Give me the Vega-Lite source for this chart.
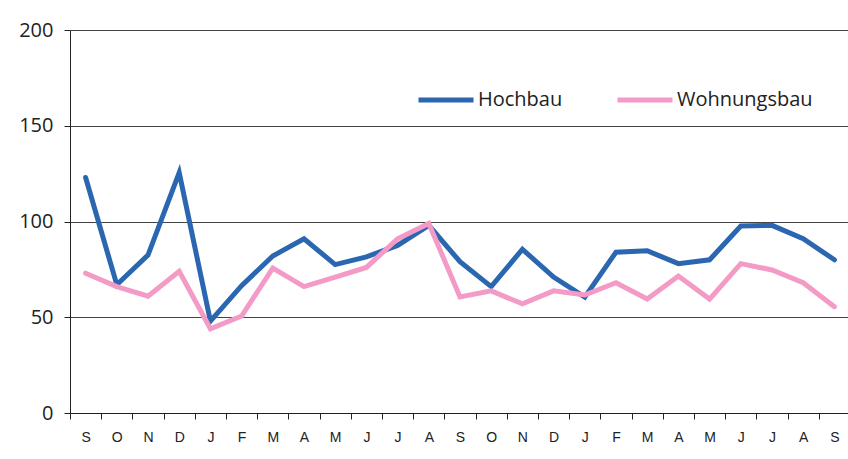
{
  "$schema": "https://vega.github.io/schema/vega-lite/v6.json",
  "autosize": "none",
  "width": 780,
  "height": 383,
  "padding": {"left": 70, "top": 30, "right": 0, "bottom": 46},
  "background": "white",
  "config": {"view": {"stroke": null}},
  "data": {
    "values": [
      {"i": 0, "serie": "Hochbau", "v": 123},
      {"i": 1, "serie": "Hochbau", "v": 67},
      {"i": 2, "serie": "Hochbau", "v": 82.5},
      {"i": 3, "serie": "Hochbau", "v": 125.5},
      {"i": 4, "serie": "Hochbau", "v": 48},
      {"i": 5, "serie": "Hochbau", "v": 66.5},
      {"i": 6, "serie": "Hochbau", "v": 82},
      {"i": 7, "serie": "Hochbau", "v": 91},
      {"i": 8, "serie": "Hochbau", "v": 77.5},
      {"i": 9, "serie": "Hochbau", "v": 81.5},
      {"i": 10, "serie": "Hochbau", "v": 87.5},
      {"i": 11, "serie": "Hochbau", "v": 98},
      {"i": 12, "serie": "Hochbau", "v": 79},
      {"i": 13, "serie": "Hochbau", "v": 66},
      {"i": 14, "serie": "Hochbau", "v": 85.5},
      {"i": 15, "serie": "Hochbau", "v": 71},
      {"i": 16, "serie": "Hochbau", "v": 60.5},
      {"i": 17, "serie": "Hochbau", "v": 84},
      {"i": 18, "serie": "Hochbau", "v": 84.7},
      {"i": 19, "serie": "Hochbau", "v": 78},
      {"i": 20, "serie": "Hochbau", "v": 80},
      {"i": 21, "serie": "Hochbau", "v": 97.6},
      {"i": 22, "serie": "Hochbau", "v": 98},
      {"i": 23, "serie": "Hochbau", "v": 91},
      {"i": 24, "serie": "Hochbau", "v": 80},
      {"i": 0, "serie": "Wohnungsbau", "v": 73},
      {"i": 1, "serie": "Wohnungsbau", "v": 66},
      {"i": 2, "serie": "Wohnungsbau", "v": 61},
      {"i": 3, "serie": "Wohnungsbau", "v": 74},
      {"i": 4, "serie": "Wohnungsbau", "v": 44},
      {"i": 5, "serie": "Wohnungsbau", "v": 50.6},
      {"i": 6, "serie": "Wohnungsbau", "v": 75.7},
      {"i": 7, "serie": "Wohnungsbau", "v": 66},
      {"i": 8, "serie": "Wohnungsbau", "v": 71},
      {"i": 9, "serie": "Wohnungsbau", "v": 76},
      {"i": 10, "serie": "Wohnungsbau", "v": 91},
      {"i": 11, "serie": "Wohnungsbau", "v": 99},
      {"i": 12, "serie": "Wohnungsbau", "v": 60.6},
      {"i": 13, "serie": "Wohnungsbau", "v": 63.8},
      {"i": 14, "serie": "Wohnungsbau", "v": 57},
      {"i": 15, "serie": "Wohnungsbau", "v": 63.8},
      {"i": 16, "serie": "Wohnungsbau", "v": 61.6},
      {"i": 17, "serie": "Wohnungsbau", "v": 68},
      {"i": 18, "serie": "Wohnungsbau", "v": 59.5},
      {"i": 19, "serie": "Wohnungsbau", "v": 71.5},
      {"i": 20, "serie": "Wohnungsbau", "v": 59.5},
      {"i": 21, "serie": "Wohnungsbau", "v": 78},
      {"i": 22, "serie": "Wohnungsbau", "v": 74.7},
      {"i": 23, "serie": "Wohnungsbau", "v": 68},
      {"i": 24, "serie": "Wohnungsbau", "v": 55.5}
    ]
  },
  "mark": {"type": "line", "strokeWidth": 5, "strokeCap": "round", "strokeJoin": "miter"},
  "encoding": {
    "x": {
      "field": "i",
      "type": "ordinal",
      "scale": {"paddingInner": 0, "paddingOuter": 0},
      "axis": {
        "title": null,
        "labelAngle": 0,
        "tickBand": "extent",
        "tickSize": 6,
        "tickColor": "#222",
        "domainColor": "#222",
        "labelFont": "Liberation Sans",
        "labelFontSize": 14,
        "labelColor": "#222",
        "labelPadding": 11,
        "labelExpr": "['S','O','N','D','J','F','M','A','M','J','J','A','S','O','N','D','J','F','M','A','M','J','J','A','S'][datum.value]"
      }
    },
    "y": {
      "field": "v",
      "type": "quantitative",
      "scale": {"domain": [0, 200], "nice": false},
      "axis": {
        "title": null,
        "values": [0, 50, 100, 150, 200],
        "grid": true,
        "gridColor": "#444",
        "gridWidth": 1,
        "tickSize": 6,
        "tickColor": "#222",
        "domainColor": "#222",
        "labelFont": "Open Sans",
        "labelFontSize": 20,
        "labelColor": "#222",
        "labelPadding": 11
      }
    },
    "color": {
      "field": "serie",
      "type": "nominal",
      "scale": {"domain": ["Hochbau", "Wohnungsbau"], "range": ["#2B67B1", "#F39BC6"]},
      "legend": {
        "title": null,
        "orient": "none",
        "legendX": 346,
        "legendY": 40,
        "direction": "horizontal",
        "symbolType": "stroke",
        "symbolSize": 3025,
        "symbolStrokeWidth": 5,
        "labelFont": "Open Sans",
        "labelFontSize": 20,
        "labelColor": "#222",
        "labelOffset": 2,
        "columnPadding": 44
      }
    }
  }
}
